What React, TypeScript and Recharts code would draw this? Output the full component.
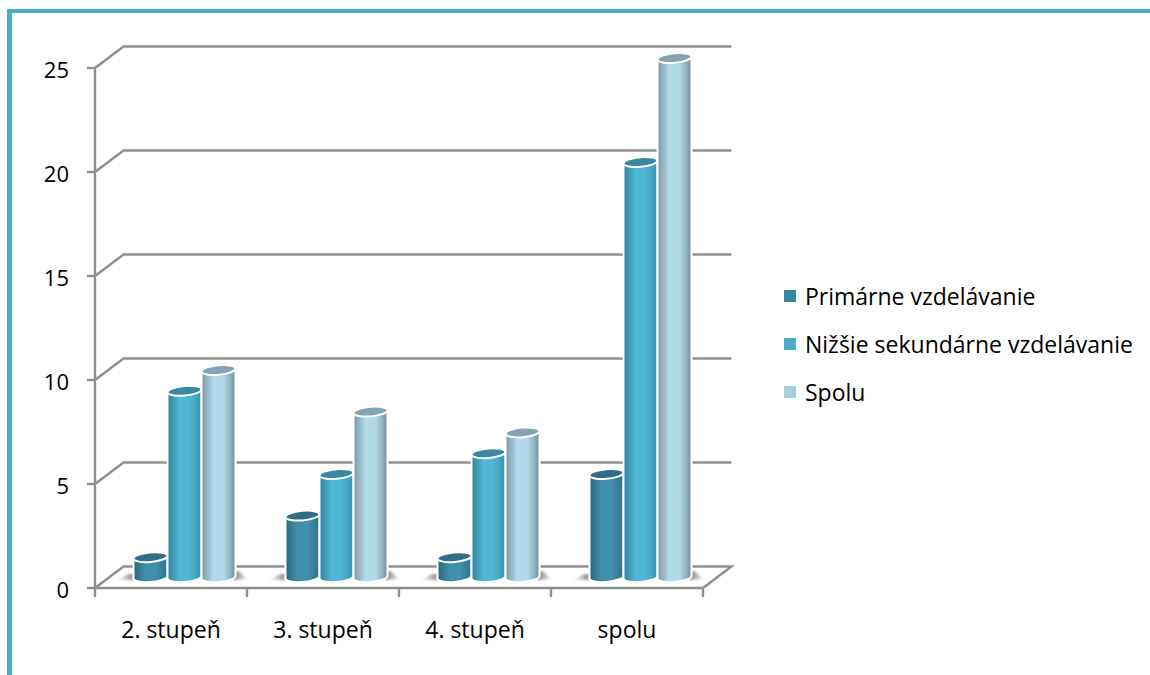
import { BarChart, Bar, XAxis, YAxis, CartesianGrid, Legend } from 'recharts';

const categories = ['2. stupeň', '3. stupeň', '4. stupeň', 'spolu'];
const primarne = [1, 3, 1, 5];
const nizsie = [9, 5, 6, 20];
const spolu = [10, 8, 7, 25];
const yTicks = [0, 5, 10, 15, 20, 25];
const seriesNames = ['Primárne vzdelávanie', 'Nižšie sekundárne vzdelávanie', 'Spolu'];
const legendColors = ['#3B87A3', '#4BACC6', '#A5CDDE'];

const data = categories.map((name, i) => ({ name, primarne: primarne[i], nizsie: nizsie[i], spolu: spolu[i] }));

const FONT = '"Open Sans", sans-serif';
const GRID = '#8F8F8F';
const DEPTH_X = 28.5;
const DEPTH_Y = -21.5;
const BAND = 152;

// gradient stops: edge, middle, edge, top cap
const TONES = [
  ['#2A6678', '#408FAB', '#2F7288', '#2F7088'],
  ['#2F8099', '#50B7D5', '#3A93AD', '#3A88A3'],
  ['#7C97A4', '#B2D9EA', '#74909D', '#84A4B3'],
];

const gridLine = (props: any) => {
  const { x1, x2, y1 } = props;
  const isFloor = Math.abs(y1 - 588) < 1;
  const d = `M${x1},${y1} L${x1 + DEPTH_X},${y1 + DEPTH_Y} L${x2 + DEPTH_X},${y1 + DEPTH_Y}` +
    (isFloor ? ` L${x2},${y1}` : '');
  return <path key={y1} d={d} fill="none" stroke={GRID} strokeWidth={2.4} />;
};

const xTick = (props: any) => {
  const { x, y, payload, index } = props;
  const left = x - BAND / 2;
  return (
    <g>
      <line x1={left} x2={left} y1={y} y2={y + 9} stroke={GRID} strokeWidth={2.4} />
      {index === categories.length - 1 && (
        <line x1={left + BAND} x2={left + BAND} y1={y} y2={y + 9} stroke={GRID} strokeWidth={2.4} />
      )}
      <text x={x} y={y + 50} textAnchor="middle" fontFamily={FONT} fontSize={23} fill="#000">{payload.value}</text>
    </g>
  );
};

const yTick = (props: any) => {
  const { x, y, payload } = props;
  return (
    <g>
      <line x1={x} x2={x + 8} y1={y} y2={y} stroke={GRID} strokeWidth={2.4} />
      <text x={x - 18} y={y + 10} textAnchor="end" fontFamily={FONT} fontSize={22} fill="#000">{payload.value}</text>
    </g>
  );
};

const cylinder = (series: number) => (props: any) => {
  const { x, y, width, height } = props;
  const left = x + 13.5;
  const right = left + width;
  const rx = width / 2;
  const cx = left + rx;
  const top = y - 10;
  const bottom = y + height - 11;
  const tilt = 1.4;
  const body = `M${left},${top + tilt} L${left},${bottom + tilt} A${rx},5 -5 0 0 ${right},${bottom - tilt} L${right},${top - tilt} Z`;
  return (
    <g>
      {series === 0 && (
        <polygon points={`${left - 17},${bottom + 3} ${left - 5},${bottom - 3} ${left + 2},${bottom - 3} ${left + 2},${bottom + 3}`} fill="url(#shadowLeft)" filter="url(#soft)" />
      )}
      {series === 2 && (
        <polygon points={`${right + 13},${bottom + 2} ${right + 3},${bottom - 6} ${right - 2},${bottom - 6} ${right - 2},${bottom + 3}`} fill="url(#shadowRight)" filter="url(#soft)" />
      )}
      <path d={body} fill={`url(#bar${series})`} stroke="#FFFFFF" strokeWidth={2} />
      <ellipse cx={cx} cy={top} rx={rx} ry={4.8} transform={`rotate(-5 ${cx} ${top})`} fill={TONES[series][3]} stroke="#FFFFFF" strokeWidth={2} />
    </g>
  );
};

const legendContent = (props: any) => (
  <div style={{ fontFamily: FONT, fontSize: 23, color: '#000' }}>
    {props.payload.map((entry: any) => (
      <div key={entry.value} style={{ display: 'flex', alignItems: 'center', height: 48, whiteSpace: 'nowrap' }}>
        <span style={{ width: 12, height: 12, background: entry.color, marginRight: 9, flex: 'none' }} />
        {entry.value}
      </div>
    ))}
  </div>
);

export default function App() {
  return (
    <div style={{ position: 'absolute', left: 0, top: 0, width: 1150, height: 675, background: '#fff', overflow: 'hidden' }}>
      <div style={{ position: 'absolute', left: 7, top: 9, right: 0, bottom: 0, borderTop: '4px solid #4BACC6', borderLeft: '5px solid #4BACC6' }} />
      <BarChart
        width={1150}
        height={675}
        data={data}
        margin={{ top: 68, right: 447, bottom: 0, left: 0 }}
        barGap={0}
        barSize={34}
        style={{ position: 'absolute', left: 0, top: 0 }}
      >
        <defs>
          {TONES.map((t, i) => (
            <linearGradient key={i} id={`bar${i}`} x1="0" x2="1" y1="0" y2="0">
              <stop offset="0" stopColor={t[0]} />
              <stop offset="0.35" stopColor={t[1]} />
              <stop offset="0.65" stopColor={t[1]} />
              <stop offset="1" stopColor={t[2]} />
            </linearGradient>
          ))}
          <linearGradient id="shadowLeft" x1="0" x2="1" y1="0" y2="0">
            <stop offset="0" stopColor="#BBBBBB" stopOpacity={0} />
            <stop offset="0.7" stopColor="#A0A0A0" />
          </linearGradient>
          <linearGradient id="shadowRight" x1="0" x2="1" y1="0" y2="0">
            <stop offset="0.3" stopColor="#A0A0A0" />
            <stop offset="1" stopColor="#BBBBBB" stopOpacity={0} />
          </linearGradient>
          <filter id="soft" x="-30%" y="-60%" width="160%" height="220%">
            <feGaussianBlur stdDeviation="0.8" />
          </filter>
        </defs>
        <CartesianGrid vertical={false} horizontal={gridLine} />
        <XAxis dataKey="name" height={87} tick={xTick} tickLine={false} tickSize={0} tickMargin={0} axisLine={{ stroke: GRID, strokeWidth: 2.4 }} interval={0} />
        <YAxis width={95} domain={[0, 25]} ticks={yTicks} tick={yTick} tickLine={false} tickSize={8} tickMargin={0} axisLine={{ stroke: GRID, strokeWidth: 2.4 }} />
        <Legend layout="vertical" align="center" verticalAlign="middle" itemSorter={null} content={legendContent} wrapperStyle={{ left: 784, top: 272, width: 365 }} />
        <Bar dataKey="primarne" name={seriesNames[0]} fill={legendColors[0]} shape={cylinder(0)} isAnimationActive={false} />
        <Bar dataKey="nizsie" name={seriesNames[1]} fill={legendColors[1]} shape={cylinder(1)} isAnimationActive={false} />
        <Bar dataKey="spolu" name={seriesNames[2]} fill={legendColors[2]} shape={cylinder(2)} isAnimationActive={false} />
      </BarChart>
    </div>
  );
}
